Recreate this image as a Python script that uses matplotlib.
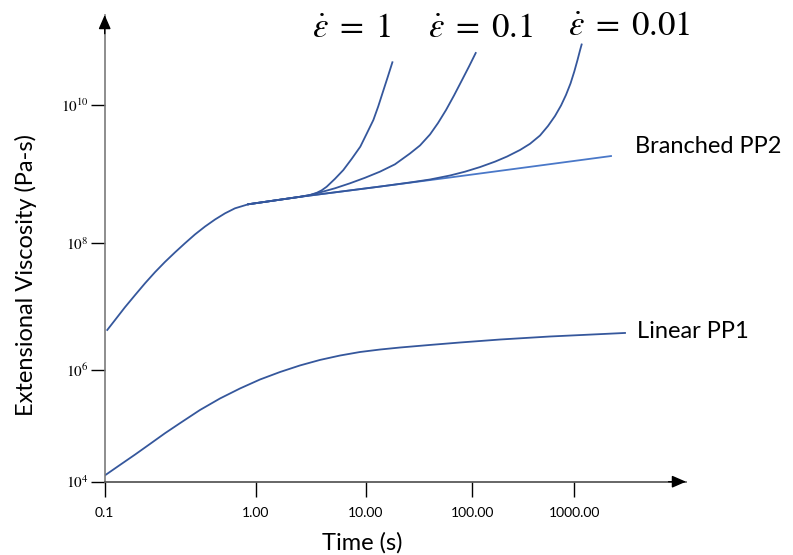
import numpy as np
import matplotlib
matplotlib.use('Agg')
import matplotlib.pyplot as plt
from matplotlib.ticker import NullLocator

plt.rcParams['font.family'] = ['Lato', 'DejaVu Sans']
plt.rcParams['mathtext.fontset'] = 'stix'

# time (s) and extensional viscosity (Pa-s)
t_linear = [0.1, 0.126, 0.159, 0.199, 0.250, 0.315, 0.426, 0.578, 0.784, 1.088, 1.655, 2.52,
            3.83, 5.83, 8.87, 13.6, 21.0, 40.1, 76.7, 187, 578, 3140]
v_linear = [1.29e4, 1.99e4, 3.07e4, 4.73e4, 7.36e4, 1.12e5, 1.92e5, 3.09e5, 4.67e5, 6.76e5,
            9.2e5, 1.18e6, 1.44e6, 1.69e6, 1.92e6, 2.10e6, 2.26e6, 2.48e6, 2.71e6, 3.02e6,
            3.37e6, 3.83e6]

t_branch = [0.104, 0.117, 0.136, 0.159, 0.185, 0.215, 0.250, 0.291, 0.339, 0.395, 0.460,
            0.536, 0.624, 0.726, 0.889]
v_branch = [4.27e6, 6.12e6, 9.71e6, 1.52e7, 2.33e7, 3.47e7, 5.02e7, 7.09e7, 9.89e7, 1.33e8,
            1.73e8, 2.19e8, 2.69e8, 3.18e8, 3.64e8]

# linear viscoelastic envelope of the branched grade
t_lve = [0.889, 2.52, 13.6, 61.8, 368, 2290]
v_lve = [3.64e8, 4.67e8, 6.57e8, 8.90e8, 1.27e9, 1.82e9]

# strain hardening at three strain rates
t_rate1 = [0.889, 1.49, 2.52, 3.11, 3.58, 3.97, 4.41, 5.25, 6.25, 7.46, 8.93, 10.2, 11.8,
           13.1, 14.6, 16.1, 17.8]
v_rate1 = [3.64e8, 4.14e8, 4.67e8, 4.96e8, 5.34e8, 5.80e8, 6.54e8, 8.52e8, 1.14e9, 1.66e9,
           2.49e9, 3.82e9, 6.06e9, 9.51e9, 1.60e10, 2.55e10, 4.16e10]

t_rate01 = [0.889, 1.49, 2.52, 3.11, 3.83, 5.25, 7.19, 9.85, 13.6, 18.8, 26.0, 32.3, 40.1,
            47.7, 56.7, 67.3, 80.1, 93.1, 108]
v_rate01 = [3.64e8, 4.14e8, 4.67e8, 4.96e8, 5.40e8, 6.21e8, 7.33e8, 8.81e8, 1.08e9, 1.38e9,
            1.98e9, 2.59e9, 3.74e9, 5.48e9, 8.46e9, 1.37e10, 2.30e10, 3.61e10, 5.67e10]

t_rate001 = [0.889, 1.49, 2.52, 5.83, 13.6, 26.0, 40.1, 61.8, 85.4, 119, 167, 219, 294, 368,
             461, 552, 647, 741, 829, 918, 1000, 1075, 1140, 1180]
v_rate001 = [3.64e8, 4.14e8, 4.67e8, 5.54e8, 6.57e8, 7.53e8, 8.32e8, 9.51e8, 1.08e9, 1.26e9,
             1.51e9, 1.79e9, 2.23e9, 2.74e9, 3.61e9, 4.96e9, 6.93e9, 9.83e9, 1.40e10, 2.05e10,
             3.06e10, 4.49e10, 6.27e10, 7.53e10]

x_ticks = [0.1, 1, 10, 100, 1000]
x_tick_labels = ['0.1', '1.00', '10.00', '100.00', '1000.00']
y_ticks = [1e4, 1e6, 1e8, 1e10]
y_tick_labels = [r'$10^{4}$', r'$10^{6}$', r'$10^{8}$', r'$10^{10}$']
rate_labels = [r'$\dot{\varepsilon}\;=\;1$', r'$\dot{\varepsilon}\;=\;0.1$', r'$\dot{\varepsilon}\;=\;0.01$']

# sketch-style log axes: decades are not all the same width
LOG_X = [-2, -1, 0, 1, 2, 3, 5]
POS_X = [-151.3, 0, 151.3, 261.0, 367.6, 469.6, 673.6]
LOG_Y = [2, 4, 6, 8, 10, 12]
POS_Y = [-111.7, 0, 111.7, 238.7, 376.7, 514.7]


def fwd_x(x):
    x = np.clip(np.asarray(x, dtype=float), 1e-30, None)
    return np.interp(np.log10(x), LOG_X, POS_X)


def inv_x(p):
    return 10 ** np.interp(np.asarray(p, dtype=float), POS_X, LOG_X)


def fwd_y(y):
    y = np.clip(np.asarray(y, dtype=float), 1e-30, None)
    return np.interp(np.log10(y), LOG_Y, POS_Y)


def inv_y(p):
    return 10 ** np.interp(np.asarray(p, dtype=float), POS_Y, LOG_Y)


W, H = 793, 555
fig = plt.figure(figsize=(W / 100, H / 100), dpi=100)
ax = fig.add_axes([104.7 / W, 73.3 / H, (686 - 104.7) / W, (481.7 - 15) / H])
ax.set_xscale('function', functions=(fwd_x, inv_x))
ax.set_yscale('function', functions=(fwd_y, inv_y))
ax.set_xlim(0.1, 10 ** 4.095)
ax.set_ylim(1e4, 10 ** 11.304)

dark = '#35579c'
light = '#4a78c8'
lw = 1.3

ax.plot(t_lve, v_lve, color=light, lw=lw)
ax.plot(t_linear, v_linear, color=dark, lw=lw)
ax.plot(t_branch, v_branch, color=dark, lw=lw)
ax.plot(t_rate1, v_rate1, color=dark, lw=lw)
ax.plot(t_rate01, v_rate01, color=dark, lw=lw)
ax.plot(t_rate001, v_rate001, color=dark, lw=lw)

ax.set_xticks(x_ticks)
ax.set_xticklabels(x_tick_labels)
ax.set_yticks(y_ticks)
ax.set_yticklabels(y_tick_labels)
ax.xaxis.set_minor_locator(NullLocator())
ax.yaxis.set_minor_locator(NullLocator())
ax.tick_params(axis='x', direction='out', length=11, width=1, color='black', pad=7, labelsize=10)
ax.tick_params(axis='y', direction='out', length=10, width=1, color='black', pad=1.5, labelsize=11)

for s in ['top', 'right']:
    ax.spines[s].set_visible(False)
ax.spines['left'].set_color('#7a7a7a')
ax.spines['bottom'].set_color('#4d4d4d')
ax.spines['left'].set_linewidth(1.2)
ax.spines['bottom'].set_linewidth(1.2)

# arrow heads on both axes
head = dict(arrowstyle='-|>,head_length=0.85,head_width=0.37', color='black', lw=1,
            shrinkA=0, shrinkB=0, mutation_scale=10)
ax.annotate('', xy=(1, 0), xycoords='axes fraction', xytext=(0.97, 0),
            arrowprops=head, annotation_clip=False)
ax.annotate('', xy=(0, 1), xycoords='axes fraction', xytext=(0, 0.96),
            arrowprops=head, annotation_clip=False)

fig.text(26 / W, 1 - 274.5 / H, 'Extensional Viscosity (Pa-s)', rotation=90,
         ha='center', va='center', fontsize=17)
fig.text(362 / W, 1 - 543 / H, 'Time (s)', ha='center', va='center', fontsize=17)
fig.text(635 / W, 1 - 153 / H, 'Branched PP2', ha='left', va='baseline', fontsize=17)
fig.text(637 / W, 1 - 338 / H, 'Linear PP1', ha='left', va='baseline', fontsize=17)

for lab, x0, y0 in zip(rate_labels, [312, 428, 568], [37, 37, 35]):
    fig.text(x0 / W, 1 - y0 / H, lab, ha='left', va='baseline', fontsize=25)

fig.savefig('out.png', dpi=100)
plt.close(fig)
